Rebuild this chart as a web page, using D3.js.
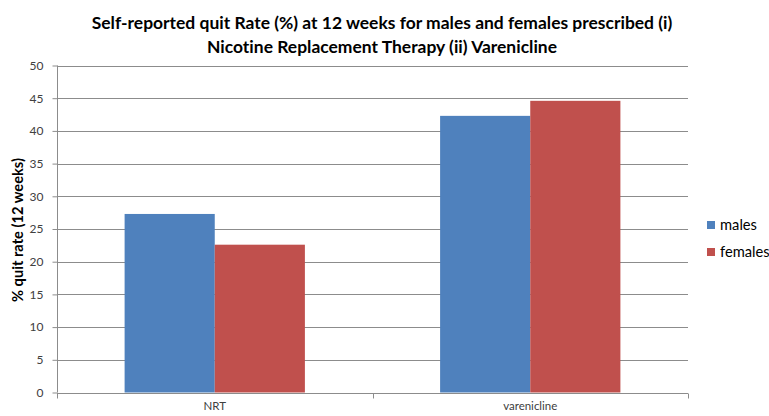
<!DOCTYPE html>
<html><head><meta charset="utf-8">
<script src="https://cdn.jsdelivr.net/npm/d3@7"></script>
<style>body{margin:0;background:#fff}svg text{font-family:Lato,"Liberation Sans",sans-serif;font-variant-ligatures:none}</style>
</head><body><svg id="c" width="769" height="416"></svg>
<script>
const categories = ["NRT", "varenicline"];
const seriesNames = ["males", "females"];
const males = [27.3, 42.3];
const females = [22.6, 44.6];
const yTicks = [0, 5, 10, 15, 20, 25, 30, 35, 40, 45, 50];
const colors = ["#4F81BD", "#C0504D"];
const titleLines = ["Self-reported quit Rate (%) at 12 weeks for males and females prescribed (i)", "Nicotine Replacement Therapy (ii) Varenicline"];
const yLabel = "% quit rate (12 weeks)";

const svg = d3.select("#c");
const m = {l: 57, r: 688, t: 65.5, b: 392.5};
const x = d3.scaleBand().domain(categories).range([m.l, m.r]).paddingInner(0).paddingOuter(0);
const inner = d3.scaleBand().domain(seriesNames).range([0, x.bandwidth()]).paddingInner(0).paddingOuter(0.75);
const y = d3.scaleLinear().domain([0, 50]).range([m.b, m.t]);

function fitSize(str, weight, target) {
  const t = svg.append("text").attr("font-size", 20).attr("font-weight", weight).text(str);
  const w = t.node().getComputedTextLength();
  t.remove();
  return 20 * target / w;
}
const titleSize = fitSize(titleLines[0], "bold", 581);
const labelSize = fitSize(yLabel, "bold", 144);
const legSize = fitSize("males", "normal", 37);

// gridlines
svg.append("g").selectAll("line").data(yTicks.filter(d => d > 0)).join("line")
  .attr("x1", m.l).attr("x2", m.r).attr("y1", d => Math.round(y(d)) + 0.5).attr("y2", d => Math.round(y(d)) + 0.5)
  .attr("stroke", "#8c8c8c").attr("stroke-width", 1);

// bars
const vals = [males, females];
seriesNames.forEach((s, si) => {
  svg.append("g").selectAll("rect").data(categories).join("rect")
    .attr("x", d => x(d) + inner(s))
    .attr("width", inner.bandwidth())
    .attr("y", (d, i) => y(vals[si][i]))
    .attr("height", (d, i) => y(0) - y(vals[si][i]))
    .attr("fill", colors[si]);
});

// y axis
const yAxis = svg.append("g").attr("transform", `translate(${m.l + 0.5},0)`)
  .call(d3.axisLeft(y).tickValues(yTicks).tickSize(5).tickPadding(9).tickFormat(d3.format("d")));
yAxis.select(".domain").attr("stroke", "#8c8c8c").attr("d", `M0,${m.t}V${m.b}`);
yAxis.selectAll(".tick line").attr("stroke", "#8c8c8c");
yAxis.selectAll("text").attr("font-size", 12).attr("fill", "#404040");

// x axis
const xAxis = svg.append("g").attr("transform", `translate(0,${Math.round(m.b) + 0.5})`)
  .call(d3.axisBottom(x).tickSize(0));
xAxis.select(".domain").attr("stroke", "#8c8c8c").attr("d", `M${m.l},0H${m.r}`);
xAxis.selectAll("text").attr("font-size", 11.5).attr("fill", "#404040").attr("y", 16.5).attr("dy", 0);
const bounds = [m.l, ...categories.map(c => x(c) + x.bandwidth())];
svg.append("g").selectAll("line").data(bounds).join("line")
  .attr("x1", d => Math.round(d) + 0.5).attr("x2", d => Math.round(d) + 0.5)
  .attr("y1", Math.round(m.b) + 0.5).attr("y2", Math.round(m.b) + 5.5)
  .attr("stroke", "#8c8c8c");

// title
svg.append("g").selectAll("text").data(titleLines).join("text")
  .attr("x", 382).attr("y", (d, i) => 29 + i * 24)
  .attr("text-anchor", "middle").attr("font-size", titleSize).attr("font-weight", "bold").attr("fill", "#000")
  .text(d => d);

// y label
svg.append("text").attr("transform", `translate(23,230) rotate(-90)`)
  .attr("text-anchor", "middle").attr("font-size", labelSize).attr("font-weight", "bold").text(yLabel);

// legend
const lg = svg.append("g").selectAll("g").data(seriesNames).join("g")
  .attr("transform", (d, i) => `translate(707,${221 + i * 27})`);
lg.append("rect").attr("width", 8).attr("height", 8).attr("fill", (d, i) => colors[i]);
lg.append("text").attr("x", 13).attr("y", 9).attr("font-size", legSize).attr("fill", "#000").text(d => d);
</script></body></html>
